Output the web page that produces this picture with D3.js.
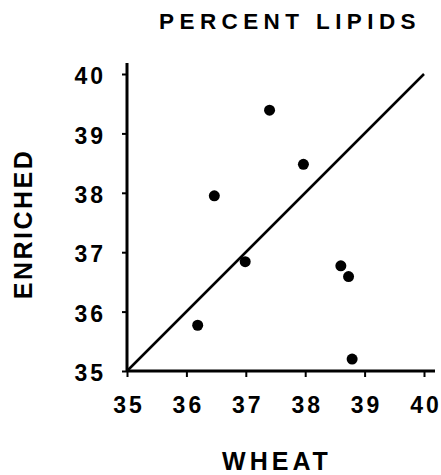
<!DOCTYPE html>
<html>
<head>
<meta charset="utf-8">
<script src="https://cdn.jsdelivr.net/npm/d3@7"></script>
<style>
  body { margin: 0; background: #fff; }
  svg text { font-family: "Liberation Sans", Arial, Helvetica, sans-serif; font-weight: bold; fill: #000; }
</style>
</head>
<body>
<svg id="chart" width="441" height="475"></svg>
<script>
// Data
const wheat    = [36.19, 36.47, 36.99, 37.40, 37.97, 38.60, 38.73, 38.79];
const enriched = [35.77, 37.95, 36.84, 39.39, 38.48, 36.77, 36.59, 35.20];
const xTicks = [35, 36, 37, 38, 39, 40];
const yTicks = [35, 36, 37, 38, 39, 40];
const identityLine = [35, 40];
const title = "PERCENT LIPIDS";
const xLabel = "WHEAT";
const yLabel = "ENRICHED";

const svg = d3.select("#chart");
const x = d3.scaleLinear().domain([35, 40]).range([127, 424]);
const y = d3.scaleLinear().domain([35, 40]).range([371, 74]);

const tickLS = 3;

// X axis
const gx = svg.append("g").attr("transform", `translate(0,${y(35)})`)
  .call(d3.axisBottom(x).tickValues(xTicks).tickSize(6).tickPadding(20).tickFormat(d3.format("d")));
gx.select(".domain").remove();
gx.selectAll(".tick line").attr("stroke", "#000").attr("stroke-width", 2);
gx.selectAll(".tick text").style("font-size", "23px").attr("letter-spacing", tickLS + "px")
  .attr("dy", "0.71em").attr("dx", tickLS / 2);
svg.append("line").attr("x1", x(35)).attr("x2", x(40) + 11).attr("y1", y(35)).attr("y2", y(35))
  .attr("stroke", "#000").attr("stroke-width", 3);

// Y axis
const gy = svg.append("g").attr("transform", `translate(${x(35)},0)`)
  .call(d3.axisLeft(y).tickValues(yTicks).tickSize(5).tickPadding(16).tickFormat(d3.format("d")));
gy.select(".domain").remove();
gy.selectAll(".tick line").attr("stroke", "#000").attr("stroke-width", 2);
gy.selectAll(".tick text").style("font-size", "23px").attr("letter-spacing", tickLS + "px").attr("dy", "0.42em");
svg.append("line").attr("x1", x(35)).attr("x2", x(35)).attr("y1", y(35) + 1).attr("y2", y(40) - 11)
  .attr("stroke", "#000").attr("stroke-width", 3);

// identity line
svg.append("line")
  .attr("x1", x(identityLine[0])).attr("y1", y(identityLine[0]))
  .attr("x2", x(identityLine[1])).attr("y2", y(identityLine[1]))
  .attr("stroke", "#000").attr("stroke-width", 2.5);

// points
svg.append("g").selectAll("circle").data(wheat.map((w, i) => [w, enriched[i]])).join("circle")
  .attr("cx", d => x(d[0])).attr("cy", d => y(d[1])).attr("r", 5.5).attr("fill", "#000");

// titles
svg.append("text").attr("x", 290).attr("y", 29).attr("text-anchor", "middle")
  .style("font-size", "22.5px").attr("letter-spacing", "5.4px").text(title);
svg.append("text").attr("x", 277).attr("y", 470).attr("text-anchor", "middle")
  .style("font-size", "25px").attr("letter-spacing", "4px").text(xLabel);
svg.append("text").attr("transform", "translate(31.5,224) rotate(-90)").attr("text-anchor", "middle")
  .style("font-size", "25px").attr("letter-spacing", "2.5px").text(yLabel);
</script>
</body>
</html>
